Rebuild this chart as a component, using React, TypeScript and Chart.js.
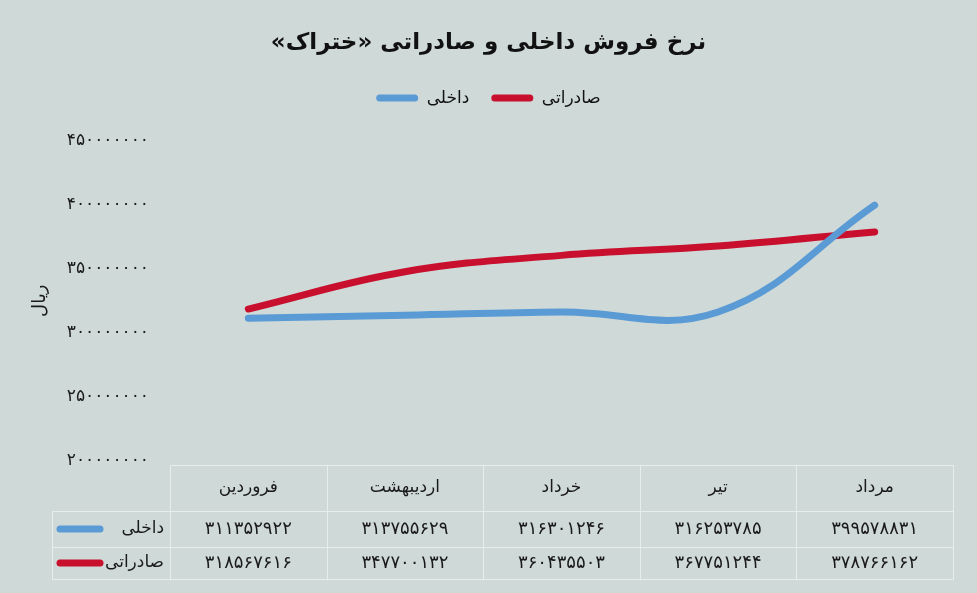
import React, { useEffect, useRef } from 'react';
import { Chart, registerables } from 'chart.js';

Chart.register(...registerables);

const TITLE = 'نرخ فروش داخلی و صادراتی «ختراک»';
const Y_TITLE = 'ریال';
const MONTHS = ['فروردین', 'اردیبهشت', 'خرداد', 'تیر', 'مرداد'];
const SERIES_NAMES = ['داخلی', 'صادراتی'];
const DOMESTIC = [311352922, 313755629, 316301246, 316253785, 399578831];
const EXPORT = [318567616, 347700132, 360435503, 367751244, 378766162];
const Y_MIN = 200000000;
const Y_MAX = 450000000;
const Y_STEP = 50000000;
const COLORS = ['#5b9bd5', '#c8102e'];

const FONT = '"DejaVu Sans", sans-serif';
const FA_DIGITS = '۰۱۲۳۴۵۶۷۸۹';
const toFa = (n: number | string) => String(n).replace(/\d/g, (d) => FA_DIGITS[+d]);
const rtl = (s: string) => '\u202B' + s + '\u202C';

const SERIES = [DOMESTIC, EXPORT];

const legendGapPlugin = {
  id: 'legendGap',
  beforeInit(chart: any) {
    const lg = chart.legend;
    if (!lg) return;
    const fit = lg.fit;
    lg.fit = function () {
      fit.call(this);
      this.height += 24;
    };
  },
};

const tablePlugin = {
  id: 'dataTable',
  afterDraw(chart: any) {
    const { ctx, chartArea } = chart;
    const n = MONTHS.length;
    const left = chartArea.left;
    const right = chartArea.right;
    const colW = (right - left) / n;
    const base = chartArea.bottom;
    const top = base + 4;
    const r1 = base + 50;
    const r2 = base + 86;
    const bottom = base + 118;
    const labelLeft = 52;
    ctx.save();
    ctx.strokeStyle = 'rgba(232,238,238,0.95)';
    ctx.lineWidth = 1;
    const line = (x1: number, y1: number, x2: number, y2: number) => {
      ctx.beginPath();
      ctx.moveTo(Math.round(x1) + 0.5, Math.round(y1) + 0.5);
      ctx.lineTo(Math.round(x2) + 0.5, Math.round(y2) + 0.5);
      ctx.stroke();
    };
    line(left, top, right, top);
    line(labelLeft, r1, right, r1);
    line(labelLeft, r2, right, r2);
    line(labelLeft, bottom, right, bottom);
    line(labelLeft, r1, labelLeft, bottom);
    for (let i = 0; i <= n; i++) {
      const xv = left + i * colW;
      line(xv, top, xv, bottom);
    }
    ctx.textAlign = 'center';
    ctx.textBaseline = 'middle';
    ctx.fillStyle = '#1a1a1a';
    ctx.font = `17px ${FONT}`;
    const xs = chart.scales.x;
    MONTHS.forEach((m, i) => {
      ctx.fillText(m, xs.getPixelForValue(i), (top + r1) / 2);
    });
    ctx.font = `18px ${FONT}`;
    const rowMids = [(r1 + r2) / 2, (r2 + bottom) / 2];
    SERIES.forEach((arr, s) => {
      arr.forEach((v, i) => {
        ctx.fillText(toFa(v), xs.getPixelForValue(i), rowMids[s]);
      });
    });
    SERIES_NAMES.forEach((name, s) => {
      const y = rowMids[s];
      ctx.textAlign = 'right';
      ctx.fillStyle = '#1a1a1a';
      ctx.font = `17px ${FONT}`;
      ctx.fillText(name, left - 6, y);
      ctx.strokeStyle = COLORS[s];
      ctx.lineWidth = 7;
      ctx.lineCap = 'round';
      ctx.beginPath();
      ctx.moveTo(60, y);
      ctx.lineTo(100, y);
      ctx.stroke();
    });
    ctx.restore();
  },
};

export default function App() {
  const ref = useRef<HTMLCanvasElement>(null);
  useEffect(() => {
    document.body.style.margin = '0';
    const chart = new Chart(ref.current as HTMLCanvasElement, {
      type: 'line',
      data: {
        labels: MONTHS,
        datasets: SERIES.map((arr, s) => ({
          label: SERIES_NAMES[s],
          data: arr,
          borderColor: COLORS[s],
          backgroundColor: COLORS[s],
          borderWidth: 7,
          borderCapStyle: 'round' as const,
          pointRadius: 0,
          pointHoverRadius: 0,
          tension: 0.4,
          fill: false,
        })),
      },
      options: {
        responsive: false,
        animation: false,
        layout: { padding: { left: 24, right: 24, top: 0, bottom: 132 } },
        plugins: {
          title: {
            display: true,
            text: rtl(TITLE),
            color: '#111',
            font: { family: FONT, size: 23, weight: 'bold' },
            padding: { top: 29, bottom: 11 },
          },
          legend: {
            display: true,
            position: 'top',
            labels: {
              color: '#111',
              font: { family: FONT, size: 17 },
              boxWidth: 42,
              boxHeight: 7,
              useBorderRadius: true,
              borderRadius: 3.5,
              padding: 22,
              generateLabels: (c: any) =>
                Chart.defaults.plugins.legend.labels
                  .generateLabels(c)
                  .map((l: any) => ({ ...l, lineWidth: 0 })),
            },
          },
          tooltip: { enabled: false },
        },
        scales: {
          x: {
            display: false,
            offset: true,
          },
          y: {
            min: Y_MIN,
            max: Y_MAX,
            afterFit: (scale: any) => {
              scale.width = 146;
            },
            border: { display: false },
            grid: { display: false, drawTicks: false },
            ticks: {
              stepSize: Y_STEP,
              color: '#1a1a1a',
              font: { family: FONT, size: 17 },
              padding: 21,
              callback: (v: any) => toFa(v),
            },
            title: {
              display: true,
              text: Y_TITLE,
              color: '#1a1a1a',
              font: { family: FONT, size: 18 },
              padding: { top: 6 },
            },
          },
        },
      },
      plugins: [legendGapPlugin, tablePlugin],
    });
    return () => chart.destroy();
  }, []);
  return (
    <div style={{ width: 977, height: 593, background: '#cfd9d8' }}>
      <canvas ref={ref} width={977} height={593} style={{ display: 'block' }} />
    </div>
  );
}
